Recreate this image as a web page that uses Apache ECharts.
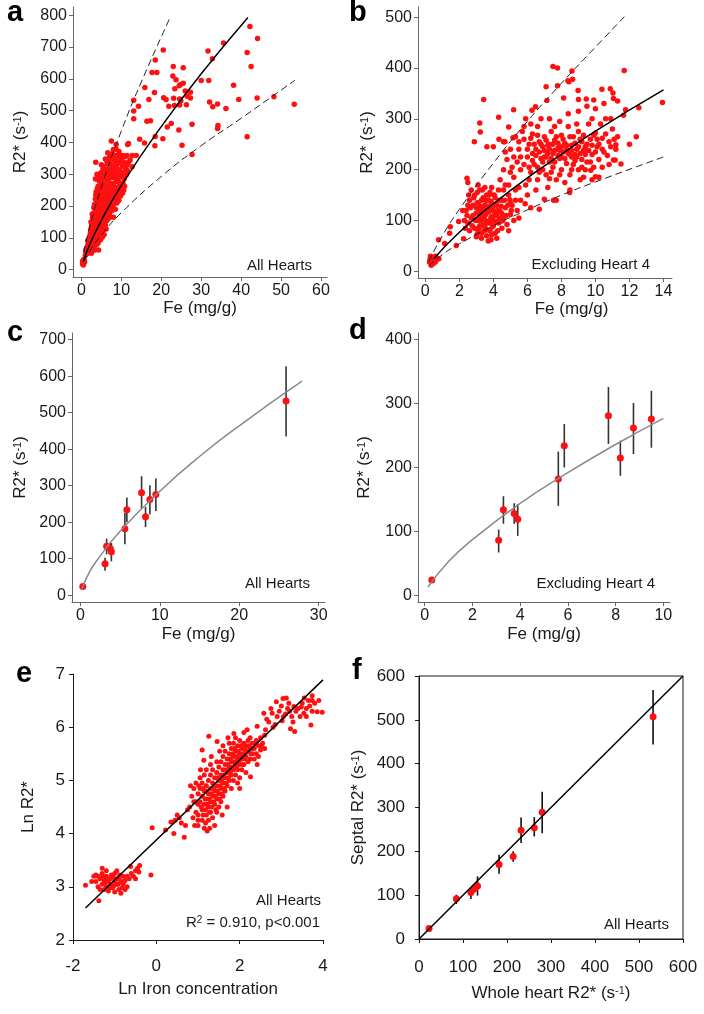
<!DOCTYPE html>
<html>
<head>
<meta charset="utf-8">
<script src="https://cdn.jsdelivr.net/npm/echarts@6/dist/echarts.min.js"></script>
<style>
html, body { margin: 0; background: #fff; }
#main { width: 704px; height: 1014px; }
</style>
</head>
<body>
<div id="main"></div>
<script>
// ---- panel a: all hearts, Fe (mg/g) vs R2* ----
const allHeartsPts = [
  // sparse high-iron points
  [42.2,765],[44.1,727],[41.5,683],[42.5,639],[44.0,540],[48.2,544],[53.3,520],[41.5,418],[35.6,713],[31.7,688],
  [32.8,663],[30.0,595],[31.9,595],[38.1,580],[39.4,535],[32.1,527],[32.9,512],[34.1,521],[36.2,507],[34.2,453],
  [34.1,444],[27.7,362],[20.5,691],[18.5,659],[17.7,620],[18.9,620],[15.9,573],[18.3,557],[16.9,535],[13.1,533],
  [14.3,514],[13.1,499],[13.1,475],[16.4,467],[17.3,468],[23.0,639],[22.9,609],[23.7,597],[25.5,635],[23.4,569],
  [24.8,582],[25.5,586],[26.0,562],[27.3,558],[26.5,545],[27.3,540],[24.6,537],[23.1,539],[20.6,541],[21.2,535],
  [21.9,514],[24.6,518],[21.5,449],[22.5,460],[24.4,439],[25.2,391],[20.4,412],[18.5,419],[18.4,390],[15.8,398],
  [14.6,410],[11.6,394],[27.7,457],[24.5,578],[23.3,516],[24.9,531],[26.3,519],
  // dense low-iron cluster
  [0.3,18],[0.4,22],[0.5,25],[0.6,20],[0.4,28],[0.7,30],[0.5,15],[0.8,24],[0.3,26],[0.6,32],
  [1.0,45],[1.2,55],[1.5,60],[1.3,68],[1.8,62],[2.0,72],[2.3,58],[2.6,66],[3.0,60],[3.5,63],[4.3,62],[1.6,78],
  [2.2,80],[2.9,75],[3.4,78],[1.1,62],[2.5,52],
  [1.6,92],[2.0,100],[2.4,88],[2.8,95],[3.2,105],[3.6,90],[4.0,98],[4.4,110],[4.8,94],[2.2,112],[2.7,118],
  [3.1,85],[3.8,115],[5.2,102],[2.5,105],[3.4,100],[1.9,88],[4.2,85],[3.0,112],[3.7,108],
  [2.3,125],[2.8,135],[3.0,150],[3.4,128],[3.8,142],[4.2,155],[4.6,132],[5.0,145],[5.5,125],[6.2,128],[2.6,145],
  [3.6,158],[4.4,138],[4.9,122],[5.8,150],[3.2,140],[4.0,125],[5.3,158],[2.9,155],[4.7,150],[6.0,140],
  [2.8,165],[3.2,178],[3.6,170],[4.0,188],[4.4,165],[4.8,195],[5.2,175],[5.6,185],[6.0,168],[6.5,192],[7.0,175],
  [7.6,185],[8.0,165],[3.4,195],[4.6,178],[5.4,198],[6.3,180],[7.2,197],[3.9,162],[5.0,162],[5.9,195],[6.8,162],
  [8.5,190],[4.2,198],
  [3.3,205],[3.8,215],[4.2,228],[4.6,210],[5.0,235],[5.4,220],[5.8,205],[6.2,230],[6.6,215],[7.0,238],[7.4,208],
  [7.8,225],[8.2,235],[8.6,212],[9.0,228],[9.4,218],[4.8,222],[5.6,238],[6.4,205],[7.2,222],[8.0,205],[8.8,238],
  [9.8,232],[3.6,235],[6.9,230],
  [3.7,245],[4.2,262],[4.7,250],[5.1,272],[5.5,255],[6.0,268],[6.4,245],[6.8,275],[7.2,258],[7.6,242],[8.0,270],
  [8.4,252],[8.8,278],[9.2,246],[9.6,265],[10.0,255],[10.4,272],[5.8,248],[6.6,260],[7.4,272],[8.6,242],[9.4,275],
  [10.8,262],[4.5,278],[7.9,258],
  [3.9,300],[4.6,288],[5.2,305],[5.7,295],[6.2,315],[6.6,285],[7.0,300],[7.5,318],[7.9,290],[8.3,308],[8.7,282],
  [9.1,300],[9.5,315],[9.9,292],[10.3,305],[10.7,285],[11.2,298],[6.9,312],[8.1,296],[9.3,288],[5.4,318],[11.5,312],
  [3.5,285],[6.0,296],[8.9,318],
  [5.6,325],[6.4,340],[7.0,352],[7.6,330],[8.2,345],[8.8,358],[9.3,335],[10.0,350],[10.6,338],[11.4,328],[12.2,345],
  [7.3,360],[9.6,360],[6.6,332],[8.6,325],[11.0,355],[3.6,338],[12.7,324],
  [7.25,359],[7.9,359],[8.9,359],[10.4,359],[11.4,359],[12.7,359],[13.75,359],[7.5,405],[8.7,394],[8.0,378],
  [8.7,379],[11.8,397],[6.6,368],[9.4,372],
  [1.4,50],[1.9,55],[2.4,70],[2.1,90],[2.6,100],[3.3,92],[3.9,80],[4.6,100],[1.8,70],[2.8,82],
  [2.5,135],[3.3,118],[3.9,132],[4.5,120],[5.1,112],[2.9,128],[3.5,148],[4.1,145],[4.8,160],[5.6,138],
  [3.0,172],[3.5,185],[3.8,175],[4.3,182],[4.9,170],[5.5,192],[6.1,183],[6.7,176],[7.3,188],[5.8,172],
  [3.5,222],[4.0,240],[4.4,215],[5.2,212],[5.9,225],[6.5,228],[7.1,212],[7.6,232],[8.4,222],[9.2,235],[6.0,212],[8.9,210],
  [4.0,255],[4.4,248],[4.9,262],[5.3,245],[5.7,268],[6.2,255],[6.9,250],[7.5,265],[8.2,262],[9.0,258],[9.9,270],[6.4,275],
  [4.2,292],[4.9,305],[5.5,285],[6.4,300],[7.3,290],[7.7,305],[8.5,295],[9.7,305],[10.5,295],[11.0,318],[5.9,310],
  [5.0,330],[6.0,348],[6.9,338],[7.9,348],[8.6,340],[9.0,350],[10.3,325],[11.8,338],[7.8,365],[9.8,345],
  [4.0,230],[4.6,235],[3.1,195],[3.7,198],[2.4,150],[2.7,175],[5.7,110],[6.4,155],[7.0,165],[7.8,198],[10.3,240],[10.6,250]
];
const aFit = [[0.5,26],[2,77],[5,155],[10,265],[20,450],[30,616],[41.7,793]];
const aUpper = [[0.6,53],[2,130],[5,259],[10,436],[15,590],[22,787]];
const aLower = [[0.6,24],[2,56],[5,109],[10,179],[20,293],[30,390],[40,476],[53.5,596]];

// ---- panel b: excluding heart 4 ----
const exclHeartPts = [
  // near-zero iron
  [0.25,18],[0.3,22],[0.35,26],[0.4,15],[0.45,20],[0.5,24],[0.55,28],[0.6,19],[0.65,23],[0.3,30],[0.4,28],[0.5,16],
  [0.7,26],[0.35,12],[0.6,30],[0.45,25],[0.8,25],[0.28,24],
  // outliers and edges
  [3.43,338],[7.5,403],[7.77,400],[8.62,394],[11.69,395],[13.94,332],[12.55,322],[12.4,265],[12.0,250],[11.2,249],
  [11.65,307],[11.3,335],[10.87,359],[10.38,358],[9.9,337],[9.0,338],[8.98,356],[8.66,378],[8.38,375],[7.77,365],
  [7.1,363],[7.15,336],[6.48,324],[6.27,317],[5.19,318],[4.9,284],[4.31,303],[3.2,292],[3.23,274],[2.88,255],
  [3.62,245],[4.0,245],[2.45,183],[2.5,175],[10.0,186],[11.06,219],[11.5,211],[9.73,199],[8.48,155],[7.54,140],
  [6.7,122],[6.2,125],[5.87,133],[4.97,141],[4.5,114],[3.86,62],[3.03,72],[2.25,64],[1.82,51],[1.43,75],[0.78,62],
  [1.14,55],[1.47,88],[1.96,98],[8.13,341],[9.46,339],[11.03,351],[11.06,340],[11.77,318],[4.33,260],[5.15,263],
  [4.68,255],[8.44,373],[11.16,219],
  // cluster around 3.5 mg/g
  [2.4,120],[2.5,95],[2.6,140],[2.7,105],[2.8,130],[2.9,85],[2.9,150],[3.0,115],[3.0,68],[3.1,100],[3.1,135],
  [3.2,160],[3.2,90],[3.3,120],[3.3,75],[3.4,145],[3.4,105],[3.5,130],[3.5,88],[3.5,165],[3.6,115],[3.6,70],
  [3.7,140],[3.7,98],[3.8,125],[3.8,80],[3.8,155],[3.9,108],[3.9,135],[4.0,90],[4.0,120],[4.1,145],[4.1,75],
  [4.2,110],[4.2,130],[4.3,95],[4.3,160],[4.4,118],[4.5,85],[4.5,140],[4.6,105],[4.7,125],[4.8,92],[4.9,150],
  [5.0,112],[5.1,130],[5.2,100],[3.3,140],[3.0,125],[2.8,110],[3.6,150],[4.0,100],[3.4,92],[3.9,72],[4.4,98],
  [2.6,80],[2.7,160],[3.1,78],[3.7,60],[4.6,160],[5.4,120],[5.6,140],[5.3,160],[2.3,100],[2.5,130],[3.2,108],
  [3.5,102],[4.1,115],[3.8,95],[4.9,80],[5.0,135],
  [2.45,110],[2.55,150],[2.65,125],[2.75,90],[2.85,145],[2.95,100],[3.05,135],[3.05,155],[3.15,118],[3.15,85],
  [3.25,128],[3.25,100],[3.35,110],[3.35,160],[3.45,122],[3.45,80],[3.55,140],[3.55,112],[3.65,95],[3.65,128],
  [3.75,118],[3.75,150],[3.85,105],[3.85,138],[3.95,125],[3.95,88],[4.05,110],[4.05,150],[4.15,98],[4.15,132],
  [4.25,120],[4.25,80],[4.35,140],[4.35,105],[4.45,128],[4.55,100],[4.65,140],[4.75,110],[4.85,130],[5.05,120],
  [3.3,65],[3.6,82],[4.2,65],[3.1,170],[3.9,165],[4.7,170],[2.35,85],[2.2,120],[5.3,140],[5.5,105],
  // cluster around 7.5 mg/g
  [5.2,185],[5.4,215],[5.5,240],[5.6,200],[5.8,260],[5.9,170],[6.0,225],[6.1,250],[6.2,195],[6.3,270],[6.4,210],
  [6.5,240],[6.6,180],[6.7,255],[6.8,222],[6.9,200],[7.0,265],[7.0,238],[7.1,190],[7.2,248],[7.3,215],[7.4,275],
  [7.5,232],[7.5,205],[7.6,258],[7.7,180],[7.8,242],[7.9,222],[8.0,268],[8.0,200],[8.1,235],[8.2,252],[8.3,212],
  [8.4,285],[8.5,230],[8.5,190],[8.6,248],[8.7,265],[8.8,218],[8.9,240],[9.0,200],[9.0,275],[9.1,232],[9.2,255],
  [9.3,185],[9.4,245],[9.5,215],[9.6,290],[9.7,260],[9.8,230],[9.9,205],[10.0,272],[10.1,245],[10.2,220],[10.3,290],
  [10.4,262],[10.5,235],[10.6,300],[10.8,255],[11.0,280],[11.2,240],[11.3,265],[6.3,232],[6.9,245],[7.3,250],
  [7.8,228],[8.3,240],[8.8,230],[7.6,238],[7.1,225],[8.0,245],[8.6,225],[9.3,238],[6.6,205],[7.4,195],[8.2,175],
  [9.1,180],[9.8,180],[6.0,150],[6.5,160],[7.2,165],[5.7,275],[6.2,290],[6.8,300],[7.3,300],[7.9,295],[8.4,310],
  [9.0,315],[9.5,325],[10.0,320],[10.5,330],[5.0,240],[5.3,265],[4.8,220],[4.6,200],[4.4,180],[5.0,195],[5.5,165],
  [4.9,170],[7.0,142],[7.7,140],[8.5,160],[9.4,200],[10.2,185],[10.8,210],
  [5.6,225],[5.8,210],[6.0,240],[6.1,205],[6.2,262],[6.3,218],[6.4,250],[6.5,228],[6.6,268],[6.7,235],
  [6.8,250],[6.9,215],[7.0,225],[7.1,258],[7.2,232],[7.3,240],[7.4,222],[7.5,250],[7.6,215],[7.7,265],
  [7.8,252],[7.9,238],[8.0,225],[8.1,260],[8.2,222],[8.3,248],[8.4,232],[8.5,265],[8.6,238],[8.7,210],
  [8.8,252],[8.9,225],[9.0,245],[9.1,260],[9.2,220],[9.3,268],[9.4,230],[9.5,250],[9.6,238],[9.7,215],
  [9.8,248],[9.9,268],[10.0,235],[10.1,260],[10.2,250],[10.4,240],[10.6,270],[10.7,228],[10.9,245],[11.1,260],
  [6.1,180],[6.7,195],[7.3,182],[7.9,190],[8.6,200],[9.2,205],[10.4,205],[5.8,285],[6.6,285],[7.6,285],[8.9,290],
  [9.8,300],[10.9,300],[5.2,225],[5.5,255],[5.1,205],[4.7,235],[4.6,255],[5.9,300]
];
const bFit = [[0.5,25],[2,77],[4,133],[6,184],[8,230],[10,276],[14,357]];
const bUpper = [[0.2,19],[1,70],[2,122],[4,213],[6,295],[8,370],[10,441],[11.7,501]];
const bLower = [[0.2,10],[1,33],[2,54],[4,90],[6,121],[8,150],[10,176],[14,225]];

// ---- panels c, d: per-heart means with SD bars ----
const heartFe   = [0.3, 3.1, 3.3, 3.75, 3.9, 5.6, 5.85, 7.7, 8.2, 8.75, 9.5, 25.9];
const heartR2   = [24,  86,  134, 128, 119, 182, 234, 281, 215, 262, 276, 532];
const heartR2Lo = [24,  67,  112, 112, 93,  140, 200, 237, 187, 221, 231, 435];
const heartR2Hi = [24,  103, 155, 144, 143, 225, 268, 326, 242, 301, 320, 627];
const cFit = [[0.13,14],[1,58],[2,93],[5,175],[10,285],[15,380],[20,464],[27.9,586]];
const dFit = [[0.14,13],[1,53],[2,87],[4,144],[6,192],[8,236],[10,277]];

// ---- panel e: log-log ----
const lnPts = [
  [-1.7,3.03],[-1.38,2.74],[-1.5,3.2],[-1.45,3.1],[-1.4,3.0],[-1.35,3.15],[-1.3,3.25],[-1.3,3.05],[-1.25,2.95],
  [-1.25,3.12],[-1.2,3.2],[-1.2,3.0],[-1.15,3.1],[-1.15,2.92],[-1.1,3.15],[-1.1,3.05],[-1.05,3.2],[-1.05,2.98],
  [-1.0,3.1],[-1.0,3.25],[-0.95,3.05],[-0.9,3.15],[-0.9,2.95],[-0.85,3.1],[-0.85,2.88],[-0.8,3.2],[-0.8,3.05],
  [-0.75,3.12],[-0.7,3.0],[-0.65,3.15],[-0.6,3.25],[-0.55,3.2],[-0.5,3.3],[-0.45,3.35],[-0.4,3.4],[-0.42,3.28],
  [-0.13,3.22],[-1.3,3.35],[-1.2,3.3],[-1.0,2.9],[-1.45,3.22],[-0.95,3.3],[-0.75,2.95],[-0.62,3.38],[-0.5,3.15],
  [-1.55,3.1],[-1.4,3.2],[-1.35,2.95],[-1.28,3.2],[-1.22,3.08],[-1.18,3.15],[-1.12,2.98],[-1.08,3.22],[-1.02,3.02],
  [-0.98,3.15],[-0.92,3.05],[-0.88,3.22],[-0.82,2.98],[-0.78,3.1],[-0.7,3.2],
  [-0.1,4.11],[0.22,4.07],[0.42,4.0],[0.67,3.93],[0.35,4.22],[0.45,4.25],[0.55,4.3],[0.6,4.2],[0.7,4.15],[0.5,4.35],
  [0.75,4.45],
  [0.8,4.5],[0.85,4.7],[0.9,4.6],[0.9,4.85],[0.95,4.4],[0.95,4.95],[1.0,4.55],[1.0,4.75],[0.88,4.3],[1.0,4.15],[0.82,4.9],
  [1.05,4.6],[1.05,4.85],[1.05,5.05],[1.1,4.45],[1.1,4.7],[1.1,4.95],[1.1,4.25],[1.15,4.55],[1.15,4.8],[1.15,5.1],
  [1.15,4.1],[1.2,4.35],[1.2,4.65],[1.2,4.9],[1.2,5.2],[1.06,5.2],[1.1,5.57],[1.14,5.38],[1.18,4.2],
  [1.25,4.5],[1.25,4.75],[1.25,5.0],[1.25,4.25],[1.3,4.6],[1.3,4.85],[1.3,5.1],[1.3,4.4],[1.35,4.7],[1.35,4.95],
  [1.35,4.3],[1.35,5.2],[1.4,4.55],[1.4,4.8],[1.4,5.05],[1.26,5.83],[1.32,5.45],[1.4,4.15],[1.28,4.1],
  [1.45,4.65],[1.45,4.9],[1.45,5.15],[1.45,4.4],[1.5,4.75],[1.5,5.0],[1.5,5.25],[1.5,4.5],[1.55,4.85],[1.55,5.1],
  [1.55,5.35],[1.55,4.6],[1.6,4.95],[1.6,5.2],[1.6,4.7],[1.6,5.45],[1.46,5.73],[1.52,5.55],[1.58,4.35],
  [1.65,5.05],[1.65,5.3],[1.65,4.8],[1.65,5.55],[1.7,5.15],[1.7,5.4],[1.7,4.9],[1.7,4.5],[1.75,5.25],[1.75,5.5],
  [1.75,5.0],[1.75,5.7],[1.8,5.1],[1.8,5.35],[1.8,5.6],[1.8,4.85],[1.72,5.8],
  [1.85,5.2],[1.85,5.45],[1.85,5.7],[1.85,5.0],[1.9,5.3],[1.9,5.55],[1.9,5.1],[1.9,5.8],[1.95,5.4],[1.95,5.65],
  [1.95,5.2],[1.95,4.95],[2.0,5.3],[2.0,5.5],[2.0,5.75],[2.0,5.05],[1.86,5.88],
  [2.05,5.4],[2.05,5.6],[2.05,5.2],[2.1,5.5],[2.1,5.7],[2.1,5.3],[2.1,5.9],[2.15,5.45],[2.15,5.65],[2.15,5.15],
  [2.2,5.55],[2.2,5.75],[2.2,5.35],[2.25,5.6],[2.25,5.4],[2.25,5.8],[2.18,5.95],[2.26,5.07],[2.3,5.5],[2.3,5.7],
  [2.35,5.6],[2.35,5.4],[2.4,5.5],[2.4,5.75],[2.45,5.65],[2.5,5.57],[2.5,5.8],[2.55,5.7],[2.6,5.85],[2.42,5.3],[2.6,5.6],
  [0.95,4.6],[1.0,4.35],[1.02,4.9],[1.08,4.5],[1.12,4.35],[1.12,4.85],[1.17,4.65],[1.18,4.45],[1.22,4.8],[1.22,4.55],
  [1.27,4.65],[1.28,4.4],[1.32,4.75],[1.33,4.5],[1.37,4.6],[1.38,4.85],[1.42,4.7],[1.43,4.45],[1.47,4.8],[1.48,5.05],
  [1.52,4.65],[1.53,4.9],[1.57,5.0],[1.58,4.75],[1.62,5.1],[1.63,4.85],[1.67,5.2],[1.68,4.95],[1.72,5.3],[1.73,5.05],
  [1.77,5.15],[1.78,5.4],[1.82,5.25],[1.83,5.5],[1.87,5.35],[1.88,5.6],[1.92,5.45],[1.93,5.25],[1.97,5.55],[1.98,5.35],
  [2.02,5.45],[2.03,5.65],[2.07,5.5],[2.08,5.3],[2.12,5.6],[2.13,5.4],[2.17,5.55],[2.22,5.65],[2.27,5.5],[2.32,5.6],
  [2.37,5.7],[2.45,5.45],[2.52,5.65],[1.6,5.65],[1.45,5.35],[1.3,5.3],[1.0,4.25],[0.92,4.15],[1.22,4.05],[2.0,4.85],
  [3.98,6.28],[3.86,6.29],[3.74,6.30],[3.74,6.50],[3.74,6.59],[3.71,6.04],[3.32,5.92],[3.22,5.97],[3.02,6.12],
  [2.78,6.26],[2.58,6.26],[3.04,6.54],[2.88,6.48],[3.18,6.45],[3.30,6.39],[3.54,6.26],[2.42,6.02],[2.62,5.95],
  [2.7,6.1],[2.85,6.05],[2.95,6.3],[3.1,6.25],[3.15,6.35],[3.25,6.2],[3.4,6.35],[3.45,6.2],[3.5,6.45],[3.6,6.35],
  [3.65,6.5],[3.55,6.55],[3.2,6.3],[2.9,6.2],[3.35,6.3],[3.8,6.45],[3.6,6.2],[2.8,6.0],[3.0,6.4],
  [2.65,6.15],[3.05,6.2],[3.28,6.1],[3.48,6.38],[3.68,6.4],[3.9,6.5],[2.75,6.35],[3.12,6.55]
];
const eFit = [[-1.7,2.6],[4.0,6.89]];

// ---- panel f: septal vs whole heart ----
const wholeR2    = [22.8, 85, 118, 127, 133, 182, 214, 232, 262, 280, 532];
const septalR2   = [24,   92, 106, 116, 121, 170, 188, 248, 254, 289, 507];
const septalLo   = [24,   80, 91,  106, 99,  149, 176, 219, 234, 241, 444];
const septalHi   = [24,   101, 118, 126, 143, 192, 200, 277, 278, 336, 568];
const fLine = [[0,0],[600,600]];

// tick labels
const aXTicks = [0,10,20,30,40,50,60];
const aYTicks = [0,100,200,300,400,500,600,700,800];
const bXTicks = [0,2,4,6,8,10,12,14];
const bYTicks = [0,100,200,300,400,500];
const cXTicks = [0,10,20,30];
const cYTicks = [0,100,200,300,400,500,600,700];
const dXTicks = [0,2,4,6,8,10];
const dYTicks = [0,100,200,300,400];
const eXTicks = [-2,0,2,4];
const eYTicks = [2,3,4,5,6,7];
const fTicks = [0,100,200,300,400,500,600];

const FONT = '"Liberation Sans", Arial, sans-serif';
const RED = '#ff1010';
const supRich = { sup: { fontSize: 11, fontFamily: FONT, color: '#1a1a1a', verticalAlign: 'top', padding: [0, 0, 6, 0] } };

function mkAxis(g, min, max, ticks, name, gap, o) {
  o = o || {};
  const col = o.axisColor || '#666';
  return {
    type: 'value', gridIndex: g, min: min, max: max,
    axisLine: { show: true, onZero: false, lineStyle: { color: col, width: 1 } },
    axisTick: { show: true, customValues: ticks, length: 4, lineStyle: { color: col } },
    axisLabel: { customValues: ticks, fontSize: o.labelSize || 16, fontFamily: FONT, color: '#1a1a1a', margin: o.margin || 6 },
    splitLine: { show: false },
    name: name, nameLocation: 'middle', nameGap: gap,
    nameTextStyle: { fontSize: 17, fontFamily: FONT, color: '#1a1a1a', rich: supRich, padding: o.namePad || 0 }
  };
}

function scatter(i, data, size) {
  return { type: 'scatter', xAxisIndex: i, yAxisIndex: i, data: data, symbolSize: size,
    itemStyle: { color: RED, opacity: 1 }, z: 2, silent: true };
}
function curve(i, data, color, width, dashed) {
  return { type: 'line', xAxisIndex: i, yAxisIndex: i, data: data, smooth: true, showSymbol: false,
    lineStyle: { color: color, width: width, type: dashed ? [7, 4] : 'solid' }, z: 3, silent: true };
}
function errBars(i, xs, lo, hi, color) {
  return { type: 'custom', xAxisIndex: i, yAxisIndex: i, z: 1, silent: true,
    data: xs.map((x, k) => [x, lo[k], hi[k]]),
    encode: { x: 0, y: [1, 2] },
    renderItem: function (params, api) {
      const p1 = api.coord([api.value(0), api.value(1)]);
      const p2 = api.coord([api.value(0), api.value(2)]);
      return { type: 'line', shape: { x1: p1[0], y1: p1[1], x2: p2[0], y2: p2[1] },
        style: { stroke: color, lineWidth: 1.6 } };
    } };
}

const pairs = (xs, ys) => xs.map((x, k) => [x, ys[k]]);
const dIdx = heartFe.map((v, k) => k).filter(k => heartFe[k] < 20);
const pick = (arr) => dIdx.map(k => arr[k]);

const R2name = 'R2* (s{sup|-1})';

function label(x, y, text) {
  return { type: 'text', x: x, y: y, style: { text: text, font: 'bold 29px ' + FONT, fill: '#000', verticalAlign: 'middle' } };
}
function note(x, y, text) {
  return { type: 'text', x: x, y: y, style: { text: text, font: '15px ' + FONT, fill: '#1a1a1a', align: 'right', verticalAlign: 'middle', rich: { sup: { fontSize: 10, fontFamily: FONT, verticalAlign: 'top', padding: [0, 0, 5, 0] } } } };
}

const chart = echarts.init(document.getElementById('main'));

const option = {
  animation: false,
  backgroundColor: '#fff',
  grid: [
    { left: 73, top: 7, width: 254, height: 270 },
    { left: 418, top: 7, width: 254, height: 271 },
    { left: 72, top: 333, width: 253, height: 269 },
    { left: 418, top: 333, width: 252, height: 269 },
    { left: 73, top: 674, width: 250, height: 266 },
    { left: 419, top: 676, width: 264, height: 263, show: true, borderColor: '#1a1a1a', borderWidth: 1 }
  ],
  xAxis: [
    mkAxis(0, -2.1, 61.5, aXTicks, 'Fe (mg/g)', 20),
    mkAxis(1, -0.43, 14.5, bXTicks, 'Fe (mg/g)', 18, { namePad: [0, 0, 0, 53] }),
    mkAxis(2, -1.06, 30.8, cXTicks, 'Fe (mg/g)', 24),
    mkAxis(3, -0.28, 10.28, dXTicks, 'Fe (mg/g)', 24),
    mkAxis(4, -2, 4, eXTicks, 'Ln Iron concentration', 41, { axisColor: '#1a1a1a', labelSize: 17, margin: 18 }),
    mkAxis(5, 0, 600, fTicks, 'Whole heart R2* (s{sup|-1})', 46, { axisColor: '#1a1a1a', labelSize: 17, margin: 20 })
  ],
  yAxis: [
    mkAxis(0, -23, 826, aYTicks, R2name, 44),
    mkAxis(1, -13, 520, bYTicks, R2name, 42),
    mkAxis(2, -18.4, 718, cYTicks, R2name, 43),
    mkAxis(3, -10.5, 410.5, dYTicks, R2name, 45),
    mkAxis(4, 2, 7, eYTicks, 'Ln R2*', 36, { axisColor: '#1a1a1a', labelSize: 17, margin: 8 }),
    mkAxis(5, 0, 600, fTicks, 'Septal R2* (s{sup|-1})', 52, { axisColor: '#1a1a1a', labelSize: 17, margin: 14 })
  ],
  series: [
    scatter(0, allHeartsPts, 5.5),
    curve(0, aFit, '#000', 1.5, false),
    curve(0, aUpper, '#222', 1, true),
    curve(0, aLower, '#222', 1, true),

    scatter(1, exclHeartPts, 5.5),
    curve(1, bFit, '#000', 1.5, false),
    curve(1, bUpper, '#222', 1, true),
    curve(1, bLower, '#222', 1, true),

    errBars(2, heartFe, heartR2Lo, heartR2Hi, '#333'),
    curve(2, cFit, '#8a8a8a', 1.5, false),
    scatter(2, pairs(heartFe, heartR2), 7),

    errBars(3, pick(heartFe), pick(heartR2Lo), pick(heartR2Hi), '#333'),
    curve(3, dFit, '#8a8a8a', 1.5, false),
    scatter(3, pairs(pick(heartFe), pick(heartR2)), 7),

    scatter(4, lnPts, 5),
    curve(4, eFit, '#000', 1.5, false),

    errBars(5, wholeR2, septalLo, septalHi, '#111'),
    curve(5, fLine, '#000', 1.5, false),
    scatter(5, pairs(wholeR2, septalR2), 7)
  ],
  graphic: [
    label(7, 13, 'a'),
    label(349, 13, 'b'),
    label(7, 333, 'c'),
    label(349, 331, 'd'),
    label(16, 674, 'e'),
    label(352, 671, 'f'),
    note(312, 266, 'All Hearts'),
    note(650, 265, 'Excluding Heart 4'),
    note(310, 584, 'All Hearts'),
    note(655, 584, 'Excluding Heart 4'),
    note(321, 901, 'All Hearts'),
    note(320, 923, 'R{sup|2} = 0.910, p<0.001'),
    note(669, 925, 'All Hearts')
  ]
};

chart.setOption(option);
</script>
</body>
</html>
